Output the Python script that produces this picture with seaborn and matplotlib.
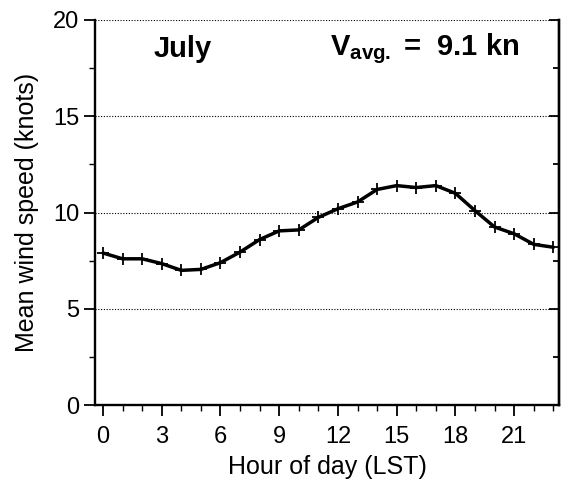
import numpy as np
import pandas as pd
import matplotlib
matplotlib.use('Agg')
import matplotlib.pyplot as plt
from matplotlib.ticker import MultipleLocator
import seaborn as sns

# hourly mean wind speed, July
hours = list(range(24))
wind_speed = [7.9, 7.6, 7.6, 7.35, 7.0, 7.05, 7.4, 7.95, 8.6, 9.05, 9.1, 9.75,
              10.2, 10.55, 11.2, 11.4, 11.3, 11.4, 11.0, 10.1, 9.25, 8.9, 8.35, 8.2]
month = "July"
v_avg = 9.1

sns.set_style('ticks', {'axes.edgecolor': 'black', 'text.color': 'black',
                        'axes.labelcolor': 'black', 'xtick.color': 'black',
                        'ytick.color': 'black'})
plt.rcParams['font.family'] = ['Liberation Sans', 'DejaVu Sans']
plt.rcParams['mathtext.fontset'] = 'custom'
plt.rcParams['mathtext.rm'] = 'Liberation Sans'
plt.rcParams['mathtext.bf'] = 'Liberation Sans:bold'

df = pd.DataFrame({'hour': hours, 'speed': wind_speed})

fig = plt.figure(figsize=(5.7, 4.87), dpi=100)
ax = fig.add_axes([0.167, 0.168, 0.814, 0.791])

sns.lineplot(data=df, x='hour', y='speed', ax=ax, color='black', linewidth=2.5,
             marker='+', markersize=9, markeredgewidth=1.3, markeredgecolor='black')

ax.set_xlim(-0.4, 23.3)
ax.set_ylim(0, 20)
ax.xaxis.set_major_locator(MultipleLocator(3))
ax.xaxis.set_minor_locator(MultipleLocator(1))
ax.yaxis.set_major_locator(MultipleLocator(5))
ax.yaxis.set_minor_locator(MultipleLocator(2.5))

for y in [5, 10, 15, 20]:
    ax.axhline(y, color='black', linestyle=(0, (1, 1.5)), linewidth=0.8, zorder=0)

ax.spines['top'].set_visible(False)
for s in ['left', 'bottom', 'right']:
    ax.spines[s].set_linewidth(1.7)
ax.tick_params(axis='both', which='major', labelsize=17, length=8, width=1.3, color='black')
ax.tick_params(axis='both', which='minor', length=4, width=1.0)
ax.tick_params(axis='x', pad=7)

# right-hand axis: ticks pointing inward, no labels
ax2 = ax.twinx()
ax2.set_ylim(0, 20)
ax2.yaxis.set_major_locator(MultipleLocator(5))
ax2.yaxis.set_minor_locator(MultipleLocator(2.5))
ax2.tick_params(axis='y', which='both', direction='in', labelright=False, width=1.3)
ax2.tick_params(axis='y', which='major', length=7)
ax2.tick_params(axis='y', which='minor', length=4)
for s in ['top', 'left', 'bottom']:
    ax2.spines[s].set_visible(False)
ax2.spines['right'].set_linewidth(1.7)

ax.set_xlabel('Hour of day (LST)', fontsize=18, labelpad=5)
ax.set_ylabel('Mean wind speed (knots)', fontsize=18, labelpad=10)

ax.text(0.125, 0.925, month, transform=ax.transAxes, fontsize=21, fontweight='bold',
        ha='left', va='center')
ax.text(0.915, 0.925, r'$\mathbf{V_{avg.}}$ =  ' + f'{v_avg} kn', transform=ax.transAxes,
        fontsize=21, fontweight='bold', ha='right', va='center')

fig.savefig('out.png', dpi=100)
